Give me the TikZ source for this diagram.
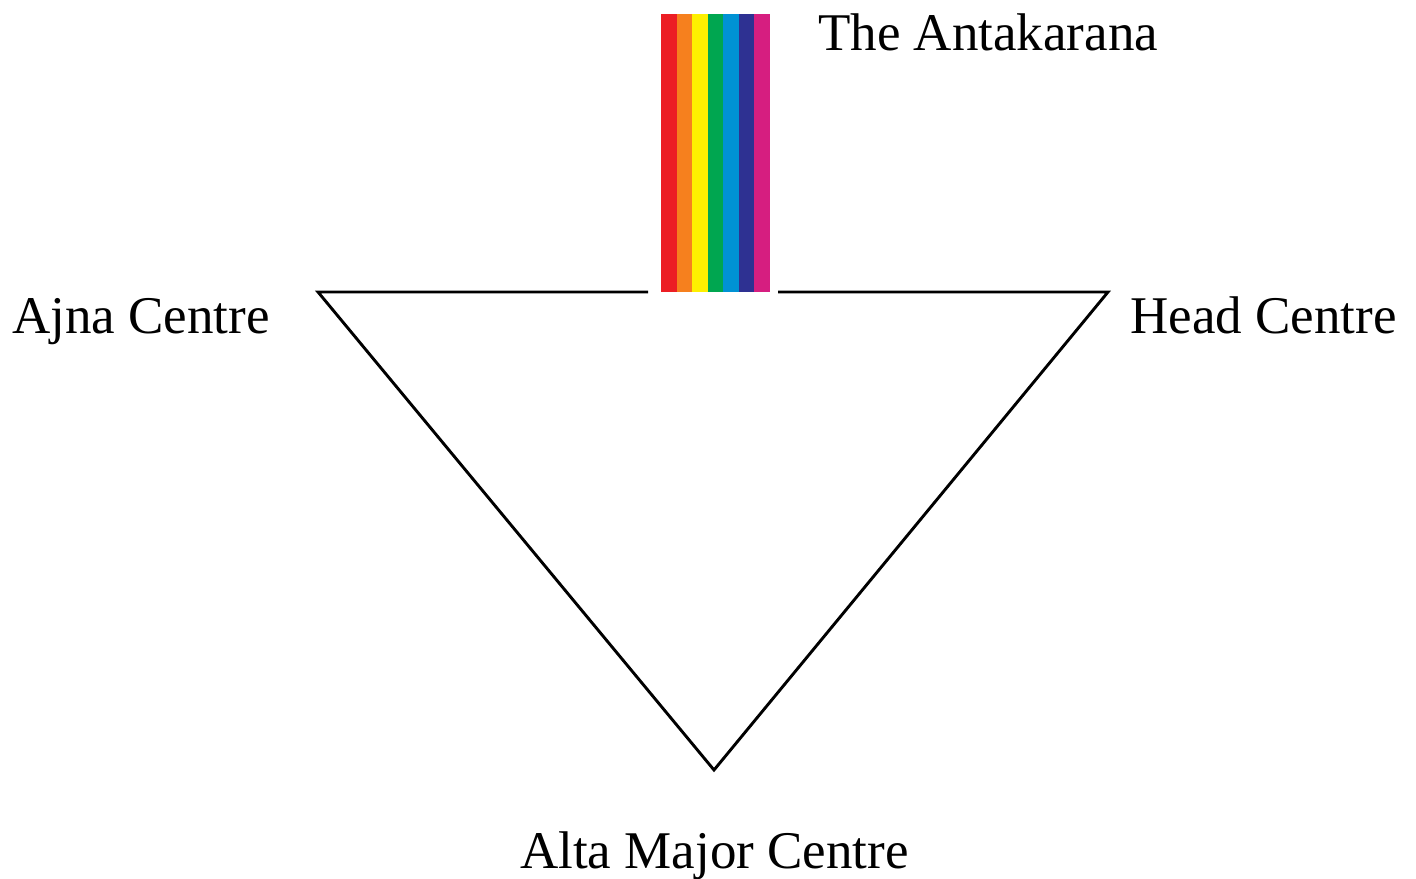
\documentclass[tikz,border=0pt]{standalone}
\usepackage{fontspec}
\setmainfont{Liberation Serif}
\begin{document}
\begin{tikzpicture}[x=1pt,y=-1pt,
  lbl/.style={font=\fontsize{53}{60}\selectfont, inner sep=0pt, anchor=base west},
  edge/.style={line width=2.9pt, line join=miter}]
\useasboundingbox (0,0) rectangle (1416,878);
\definecolor{c1}{RGB}{236,30,36}
\definecolor{c2}{RGB}{246,128,30}
\definecolor{c3}{RGB}{254,240,0}
\definecolor{c4}{RGB}{0,166,80}
\definecolor{c5}{RGB}{0,146,212}
\definecolor{c6}{RGB}{46,49,146}
\definecolor{c7}{RGB}{214,30,128}
\coordinate (ajna) at (318,292);
\coordinate (head) at (1108,292);
\coordinate (alta) at (714,770);
\coordinate (gapL) at (648,292);
\coordinate (gapR) at (778,292);
\draw[edge] (gapL) -- (ajna) -- (alta) -- (head) -- (gapR);
\foreach \c [count=\i from 0] in {c1,c2,c3,c4,c5,c6,c7}
  \fill[\c] ({661+\i*15.57},14) rectangle ({661+(\i+1)*15.57+0.3},292);
\node[lbl] (tA) at (818,50) {The Antakarana};
\node[lbl] (tAj) at (12,333) {Ajna Centre};
\node[lbl] (tH) at (1130,333) {Head Centre};
\node[lbl] (tAl) at (520,868) {Alta Major Centre};
\end{tikzpicture}
\end{document}
